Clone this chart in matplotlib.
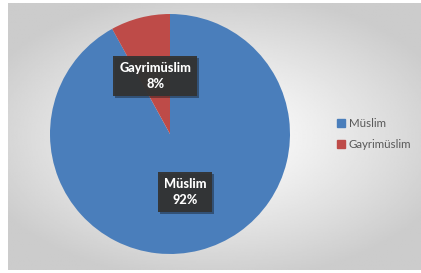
import numpy as np
import matplotlib
matplotlib.use("Agg")
import matplotlib.pyplot as plt
from matplotlib import patheffects as pe

labels = ["Müslim", "Gayrimüslim"]
shares = [92, 8]
colors = ["#4A7EBB", "#BE4B48"]

plt.rcParams["font.family"] = ["Lato", "DejaVu Sans"]

fig = plt.figure(figsize=(4.21, 2.73), dpi=100)
fig.patch.set_facecolor("white")

# radial grey background panel
bg = fig.add_axes([8 / 421, 3 / 273, 413 / 421, 267 / 273])
yy, xx = np.mgrid[-1:1:200j, -1:1:300j]
rr = np.sqrt((xx * 1.0) ** 2 + (yy * 1.1) ** 2)
shade = 1.0 - 0.2 * np.clip(rr / 1.2, 0, 1) ** 1.2
bg.imshow(shade, cmap="gray", vmin=0, vmax=1, aspect="auto",
          extent=(0, 1, 0, 1))
bg.set_axis_off()

# pie
cx, cy, r = 170, 134, 120
ax = fig.add_axes([(cx - r) / 421, (273 - cy - r) / 273, 2 * r / 421, 2 * r / 273])
wedges, _ = ax.pie(shares, colors=colors, startangle=90, counterclock=False,
                   wedgeprops={"linewidth": 0})
ax.set_aspect("auto")
ax.set_xlim(-1, 1)
ax.set_ylim(-1, 1)

for w, lab, val in zip(wedges, labels, shares):
    mid = np.deg2rad((w.theta1 + w.theta2) / 2)
    tx, ty = 0.5 * np.cos(mid), 0.5 * np.sin(mid)
    t = ax.text(tx, ty, f"{lab}\n{val}%", ha="center", va="center",
                color="white", fontsize=9.2, fontweight="black", linespacing=1.45,
                bbox=dict(boxstyle="square,pad=0.45", facecolor="#333333",
                          edgecolor="none", alpha=0.95))
    t.get_bbox_patch().set_path_effects(
        [pe.SimplePatchShadow(offset=(1.5, -1.5), alpha=0.4), pe.Normal()])

# legend
handles = [plt.Rectangle((0, 0), 1, 1, color=c) for c in colors]
fig.legend(handles, labels, loc="center left", bbox_to_anchor=(327 / 421, 1 - 134 / 273),
           frameon=False, fontsize=8.3, handlelength=0.7, handleheight=0.7,
           handletextpad=0.3, labelspacing=0.85, labelcolor="#595959")

fig.savefig("out.png", dpi=100)
